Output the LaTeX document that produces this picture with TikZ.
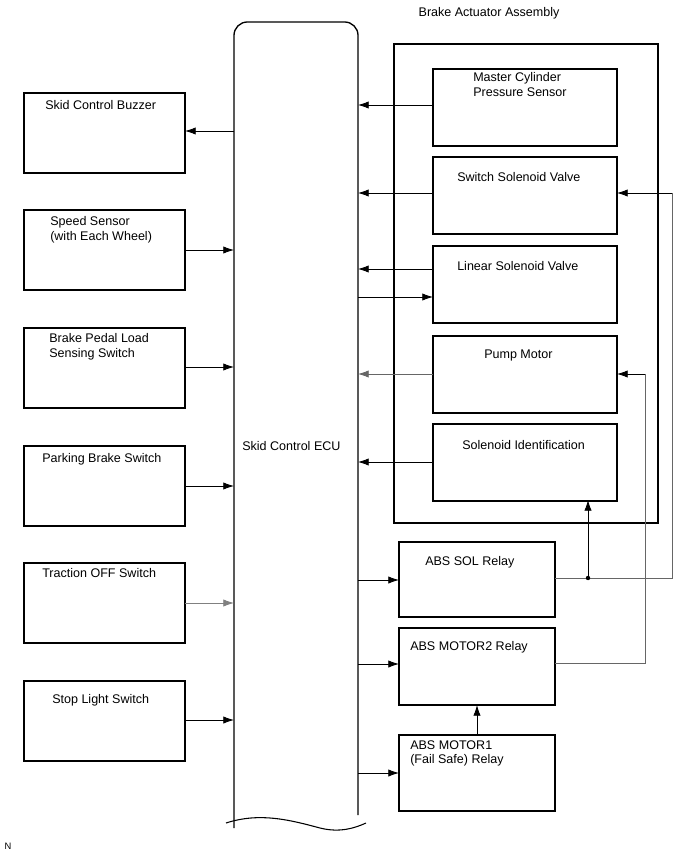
\documentclass[tikz,border=0pt]{standalone}
\usepackage{fontspec}
\setmainfont{Liberation Sans}
\usetikzlibrary{arrows.meta}
\begin{document}
\begin{tikzpicture}[x=0.75pt,y=-0.75pt,
 box/.style={draw,line width=0.9pt},
 lbl/.style={anchor=north west,font=\fontsize{9.4}{11}\selectfont,align=left,inner sep=0pt},
 arr/.style={-{Latex[length=8pt,width=5.5pt]},line width=0.6pt},
 garr/.style={arr,draw=gray!80!black}]
\useasboundingbox (0,0) rectangle (690,855);
% ECU
\draw[line width=1pt,rounded corners=10pt] (234,828) -- (234,22) -- (358,22) -- (358,815);
\draw[line width=0.8pt] (226,823) .. controls (260,812) and (290,820) .. (320,828) .. controls (340,833) and (355,828) .. (366,823);
\node[lbl] (ecu) at (242,441) {Skid Control ECU};
% left boxes
\foreach \y in {93,210,328,446,563,681}{\draw[box] (24,\y) rectangle (185,\y+80);}
\node[lbl] (bz) at (45,100) {Skid Control Buzzer};
\node[lbl] (ss) at (50,216) {Speed Sensor\\(with Each Wheel)};
\node[lbl] (bp) at (49,333) {Brake Pedal Load\\Sensing Switch};
\node[lbl] (pb) at (42,453) {Parking Brake Switch};
\node[lbl] (tr) at (42,568) {Traction OFF Switch};
\node[lbl] (sl) at (52,694) {Stop Light Switch};
\draw[arr] (234,131) -- (185,131);
\foreach \y in {250,367,486,720}{\draw[arr] (185,\y) -- (234,\y);}
\draw[arr,draw=gray] (185,603) -- (234,603);
% assembly
\node[font=\fontsize{9.4}{10}\selectfont,anchor=base] (ba) at (489,17) {Brake Actuator Assembly};
\draw[box] (394,44) rectangle (658,523);
\foreach \y in {69,157,246,336,424}{\draw[box] (433,\y) rectangle (617,\y+77);}
\node[lbl] (mct) at (473,72) {Master Cylinder\\Pressure Sensor};
\node[lbl] (swt) at (457,172) {Switch Solenoid Valve};
\node[lbl] (lst) at (457,261) {Linear Solenoid Valve};
\node[lbl] (pmt) at (484,350) {Pump Motor};
\node[lbl] (sit) at (462,440) {Solenoid Identification};
\foreach \y in {105,193,269,462}{\draw[arr] (433,\y) -- (358,\y);}
\draw[garr] (433,374) -- (358,374);
\draw[arr] (358,297) -- (433,297);
% relays
\draw[box] (399,542) rectangle (555,617);
\draw[box] (399,628) rectangle (555,705);
\draw[box] (399,735) rectangle (555,811);
\node[lbl] (sol) at (425,556) {ABS SOL Relay};
\node[lbl] (m2) at (410,641) {ABS MOTOR2 Relay};
\node[lbl] (m1) at (410,740) {ABS MOTOR1\\(Fail Safe) Relay};
\foreach \y in {580,664,773}{\draw[arr] (358,\y) -- (399,\y);}
\draw[arr] (477,735) -- (477,705);
\draw[line width=0.6pt,draw=gray!80!black] (555,578) -- (672,578) -- (672,193);
\draw[arr] (672,193) -- (617,193);
\fill (588,578) circle (2.2);
\draw[arr] (588,578) -- (588,500);
\draw[line width=0.6pt,draw=gray!80!black] (555,663) -- (645,663) -- (645,374);
\draw[arr] (645,374) -- (617,374);
\node[font=\fontsize{7}{8}\selectfont] (nn) at (8,846) {N};
\end{tikzpicture}
\end{document}
